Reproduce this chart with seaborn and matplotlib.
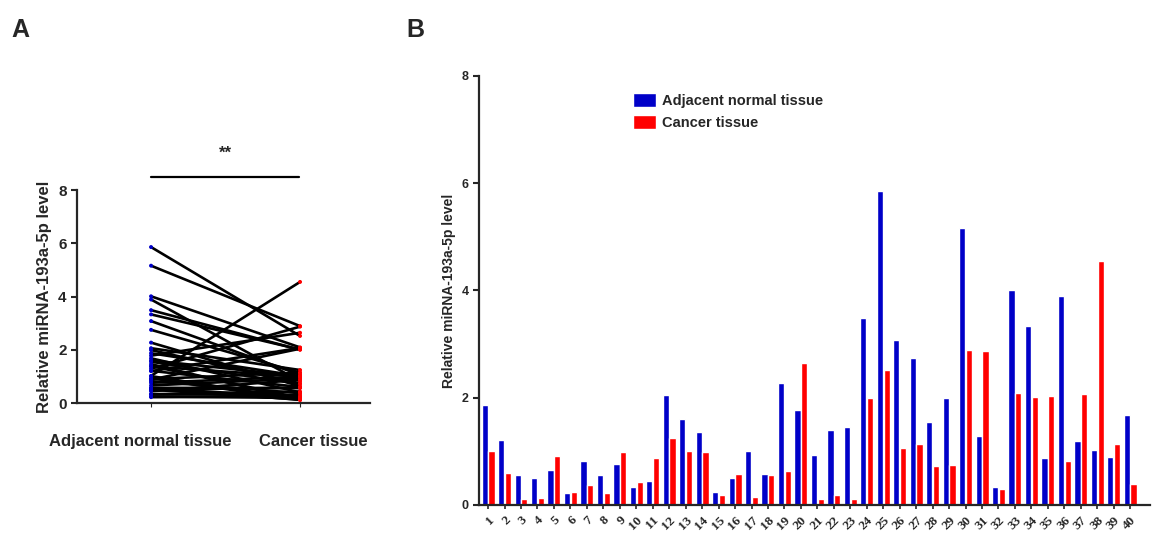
import numpy as np
import pandas as pd
import seaborn as sns
import matplotlib.pyplot as plt
import matplotlib.transforms as mtrans

# values (panel B), samples 1..40
samples = [str(i) for i in range(1, 41)]
normal = [1.87, 1.21, 0.56, 0.50, 0.66, 0.22, 0.82, 0.56, 0.76, 0.33,
          0.44, 2.06, 1.60, 1.37, 0.25, 0.50, 1.01, 0.57, 2.27, 1.78,
          0.93, 1.39, 1.46, 3.49, 5.86, 3.08, 2.75, 1.55, 1.99, 5.16,
          1.29, 0.33, 4.01, 3.33, 0.88, 3.89, 1.20, 1.02, 0.90, 1.68]
cancer = [1.01, 0.60, 0.12, 0.13, 0.92, 0.24, 0.37, 0.22, 0.99, 0.43,
          0.87, 1.24, 1.01, 0.99, 0.19, 0.58, 0.15, 0.56, 0.63, 2.64,
          0.12, 0.19, 0.12, 2.00, 2.52, 1.06, 1.14, 0.72, 0.74, 2.89,
          2.87, 0.30, 2.09, 2.01, 2.04, 0.82, 2.07, 4.55, 1.14, 0.40]
groups = ['Adjacent normal tissue', 'Cancer tissue']
colors = ['#0000c8', '#ff0000']

sns.set_style('ticks')
plt.rcParams['font.family'] = ['Liberation Sans', 'DejaVu Sans']
plt.rcParams['font.weight'] = 'bold'
plt.rcParams['axes.labelweight'] = 'bold'

df = pd.DataFrame({
    'sample': samples * 2,
    'tissue': [groups[0]] * 40 + [groups[1]] * 40,
    'pos': [0] * 40 + [1] * 40,
    'value': normal + cancer,
})

fig = plt.figure(figsize=(11.54, 5.37), dpi=100)

# panel A: paired lines
axA = fig.add_axes([0.0667, 0.2495, 0.254, 0.3965])
sns.lineplot(data=df, x='pos', y='value', units='sample', estimator=None,
             color='black', lw=1.9, ax=axA, legend=False)
sns.scatterplot(data=df, x='pos', y='value', hue='tissue', palette=colors,
                s=8, edgecolor='none', ax=axA, legend=False, zorder=3)
axA.set_xlim(-0.497, 1.47)
axA.set_ylim(0, 8)
axA.set_yticks([0, 2, 4, 6, 8])
axA.set_xticks([0, 1])
axA.set_xticklabels(groups, fontsize=12, fontweight='bold')
axA.tick_params(axis='x', length=3, pad=19)
axA.tick_params(axis='y', labelsize=11, width=1.5, length=4)
# the category labels sit slightly apart from their ticks
for lbl, dx in zip(axA.get_xticklabels(), [-11, 13]):
    lbl.set_transform(lbl.get_transform() +
                      mtrans.ScaledTranslation(dx / 100, 0, fig.dpi_scale_trans))
axA.set_xlabel('')
axA.set_ylabel('Relative miRNA-193a-5p level', fontsize=12)
for s in ['left', 'bottom']:
    axA.spines[s].set_linewidth(1.6)
sns.despine(ax=axA)
axA.plot([0, 0.99], [8.5, 8.5], color='black', lw=1.6, clip_on=False)
axA.text(0.5, 9.1, '**', ha='center', va='bottom', fontsize=12,
         fontweight='bold')

# panel B: grouped bars
axB = fig.add_axes([0.4151, 0.0596, 0.5814, 0.7989])
sns.barplot(data=df, x='sample', y='value', hue='tissue', palette=colors,
            width=0.82, gap=0.08, ax=axB, saturation=1)
axB.set_xlim(-0.55, 40.2)
axB.set_ylim(0, 8)
axB.set_yticks([0, 2, 4, 6, 8])
axB.tick_params(axis='y', labelsize=9, width=1.5, length=4)
axB.tick_params(axis='x', length=3, width=1.2)
plt.setp(axB.get_xticklabels(), rotation=45, ha='right',
         rotation_mode='anchor', family='Liberation Serif',
         fontweight='bold', fontsize=9.5)
axB.set_xlabel('')
axB.set_ylabel('Relative miRNA-193a-5p level', fontsize=10)
for s in ['left', 'bottom']:
    axB.spines[s].set_linewidth(1.6)
sns.despine(ax=axB)
leg = axB.legend(loc='upper left', bbox_to_anchor=(0.21, 0.99), frameon=False,
                 fontsize=10.5, handlelength=1.6, handleheight=1.1,
                 handletextpad=0.4, labelspacing=0.45)
for t in leg.get_texts():
    t.set_fontweight('bold')

fig.text(0.010, 0.945, 'A', fontsize=18, fontweight='bold', va='center')
fig.text(0.352, 0.945, 'B', fontsize=18, fontweight='bold', va='center')

plt.savefig('out.png', dpi=100)
